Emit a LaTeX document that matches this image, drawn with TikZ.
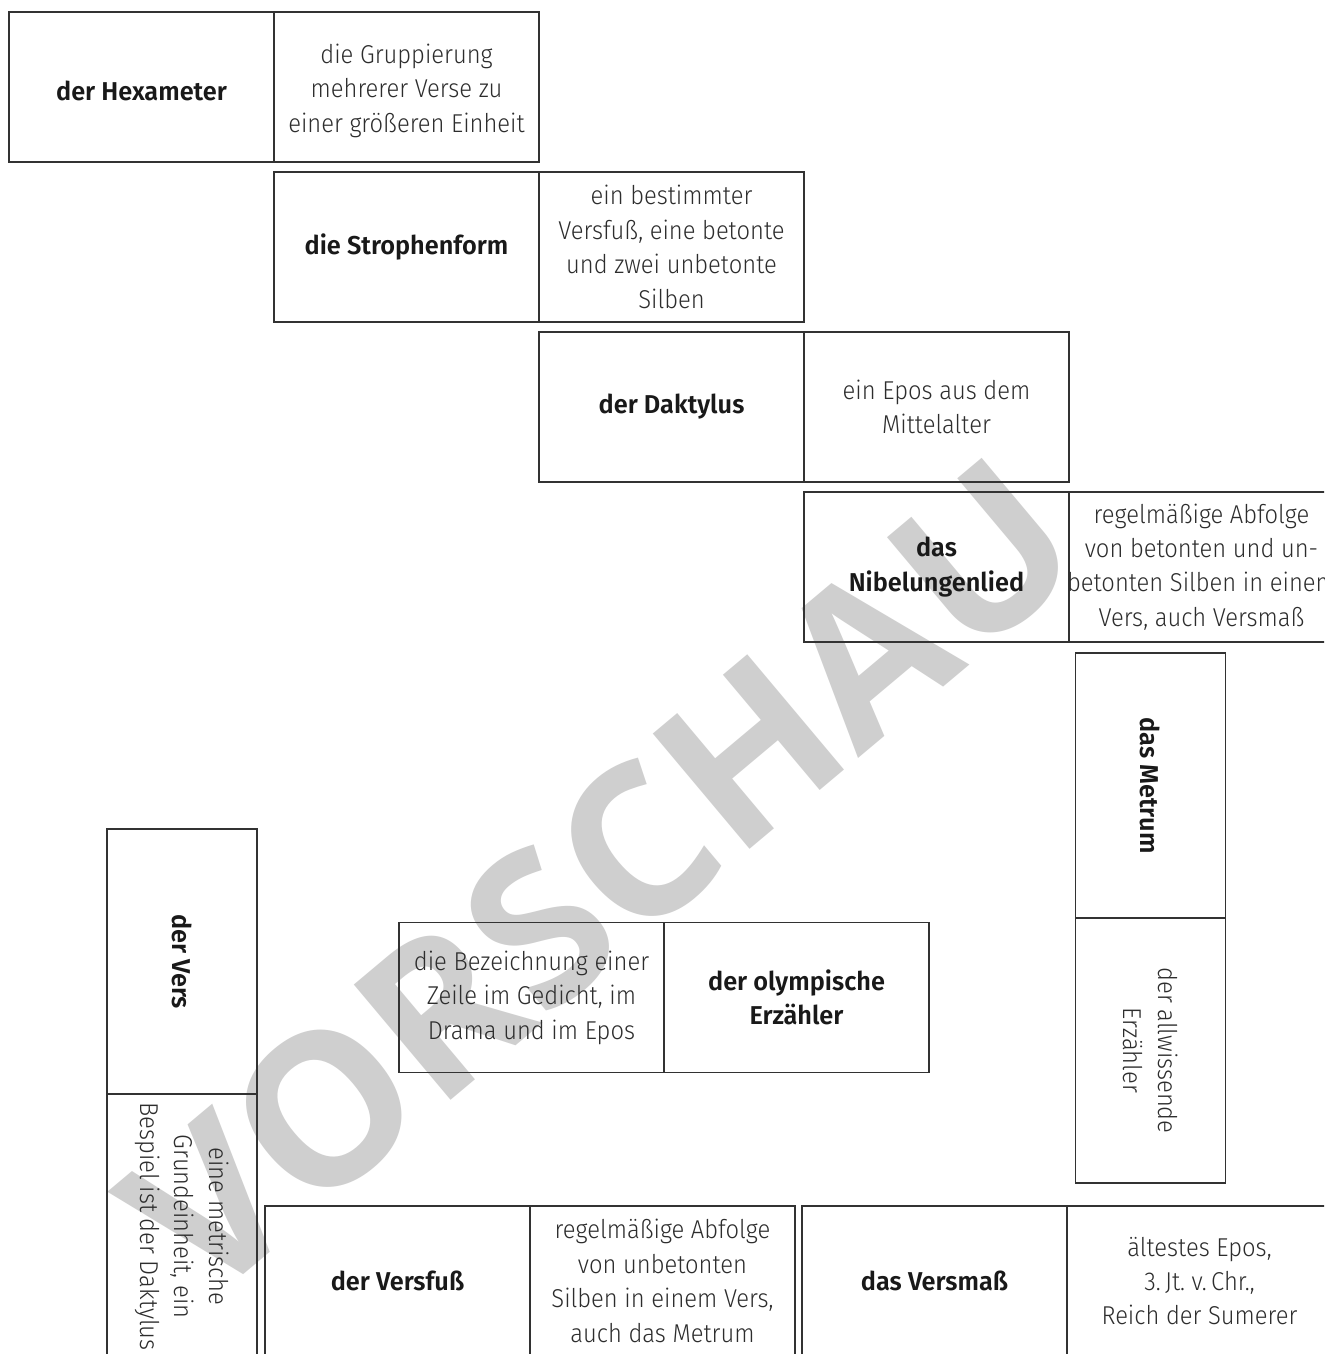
\documentclass[tikz,border=0pt]{standalone}
\usepackage{fontspec}
\IfFontExistsTF{Fira Sans Light}
  {\newfontfamily\deffont{Fira Sans Light}[FakeStretch=0.92]}
  {\IfFontExistsTF{Open Sans Light}
    {\newfontfamily\deffont{Open Sans Light}[FakeStretch=0.9]}
    {\IfFontExistsTF{Lato Light}
      {\newfontfamily\deffont{Lato Light}}
      {\newfontfamily\deffont{Fira Sans}[FakeStretch=0.92]}}}
\IfFontExistsTF{Fira Sans SemiBold}
  {\newfontfamily\termfont{Fira Sans SemiBold}[FakeStretch=0.98]}
  {\newfontfamily\termfont{Fira Sans}[FakeStretch=0.98]}
\newfontfamily\wmfont{Open Sans}
\definecolor{wmgray}{RGB}{207,207,207}
\definecolor{linec}{RGB}{50,50,50}
\definecolor{deftext}{RGB}{45,45,45}
\definecolor{termtext}{RGB}{25,25,25}
\begin{document}
\begin{tikzpicture}[x=0.02cm,y=-0.02cm,
  box/.style={draw=linec, line width=0.75pt, minimum width=5.3cm, minimum height=3cm, inner sep=0pt},
  vbox/.style={box, minimum width=3cm, minimum height=5.3cm},
  deft/.style={align=center, inner sep=0pt, text=deftext, font=\deffont\fontsize{14.7pt}{19.6pt}\selectfont},
  termt/.style={align=center, inner sep=0pt, text=termtext, font=\termfont\fontsize{14.7pt}{19.6pt}\selectfont},
  vert/.style={rotate=-90},
  watermark/.style={text=wmgray, inner sep=0pt, font=\wmfont\bfseries\fontsize{120pt}{120pt}\selectfont}]
\useasboundingbox (0,0) rectangle (1324,1354);
\clip (0,0) rectangle (1324,1354);
\fill[white] (0,0) rectangle (1324,1354);
% watermark
\node[watermark, rotate=40] (wm) at (600,877) {VORSCHAU};
% boxes
\node[box] (b1l) at (141.5,87) {};
\node[box] (b1r) at (406.5,87) {};
\node[box] (b2l) at (406.5,247) {};
\node[box] (b2r) at (671.5,247) {};
\node[box] (b3l) at (671.5,407) {};
\node[box] (b3r) at (936.5,407) {};
\node[box] (b4l) at (936.5,567) {};
\node[box] (b4r) at (1201.5,567) {};
\node[vbox] (b5t) at (1150.5,785.5) {};
\node[vbox] (b5b) at (1150.5,1050.5) {};
\node[box] (b6l) at (531.5,997.5) {};
\node[box] (b6r) at (796.5,997.5) {};
\node[vbox] (b7t) at (182,961.5) {};
\node[vbox] (b7b) at (182,1226.5) {};
\node[box] (b8l) at (397.5,1281) {};
\node[box] (b8r) at (662.5,1281) {};
\node[box] (b9l) at (934.5,1281) {};
\node[box] (b9r) at (1199.5,1281) {};
% texts
\node[termt] (t1) at ([yshift=-2pt]b1l.center) {der Hexameter};
\node[deft] (d1) at ([yshift=-2pt]b1r.center) {die Gruppierung\\mehrerer Verse zu\\einer größeren Einheit};
\node[termt] (t2) at (b2l.center) {die Strophenform};
\node[deft] (d2) at (b2r.center) {ein bestimmter\\Versfuß, eine betonte\\und zwei unbetonte\\Silben};
\node[termt] (t3) at (b3l.center) {der Daktylus};
\node[deft] (d3) at (b3r.center) {ein Epos aus dem\\Mittelalter};
\node[termt] (t4) at (b4l.center) {das\\Nibelungenlied};
\node[deft] (d4) at (b4r.center) {regelmäßige Abfolge\\von betonten und un-\\betonten Silben in einem\\Vers, auch Versmaß};
\node[termt, vert] (t5) at (b5t.center) {das Metrum};
\node[deft, vert] (d5) at (b5b.center) {der allwissende\\Erzähler};
\node[deft] (d6) at (b6l.center) {die Bezeichnung einer\\Zeile im Gedicht, im\\Drama und im Epos};
\node[termt] (t6) at (b6r.center) {der olympische\\Erzähler};
\node[termt, vert] (t7) at (b7t.center) {der Vers};
\node[deft, vert] (d7) at (b7b.center) {eine metrische\\Grundeinheit, ein\\Bespiel ist der Daktylus};
\node[termt] (t8) at (b8l.center) {der Versfuß};
\node[deft] (d8) at (b8r.center) {regelmäßige Abfolge\\von unbetonten\\Silben in einem Vers,\\auch das Metrum};
\node[termt] (t9) at (b9l.center) {das Versmaß};
\node[deft] (d9) at (b9r.center) {ältestes Epos,\\3.\,Jt.\ v.\,Chr.,\\Reich der Sumerer};
\end{tikzpicture}
\end{document}
